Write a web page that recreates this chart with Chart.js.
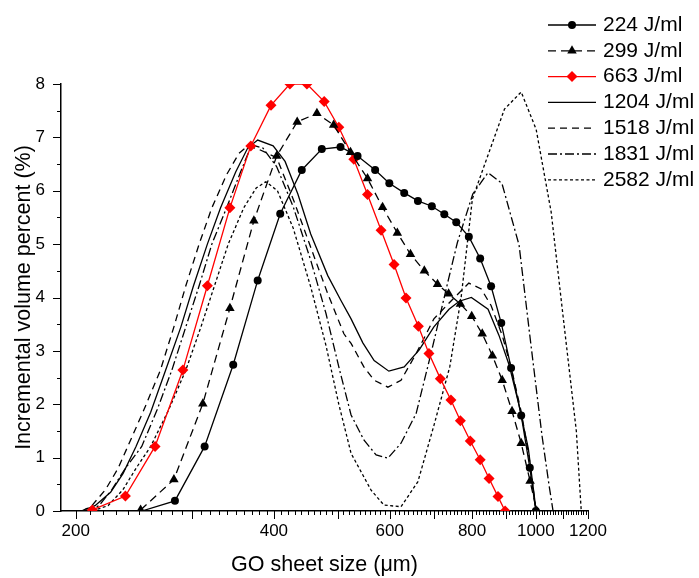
<!DOCTYPE html>
<html>
<head>
<meta charset="utf-8">
<title>GO sheet size distribution</title>
<script src="https://cdn.jsdelivr.net/npm/chart.js@4.4.1/dist/chart.umd.min.js"></script>
<style>
  html, body { margin: 0; padding: 0; background: #fff; }
</style>
</head>
<body>
<canvas id="sizeChart" width="699" height="578"></canvas>
<script>
// sheet size (um) / incremental volume (%) for each sonication energy
const size224 = [252, 283, 314, 347, 378, 409, 441, 473, 505, 536, 570, 599, 631, 662, 695, 726, 757, 791, 823, 855, 886, 917, 950, 979, 1000];
const vol224  = [0, 0.19, 1.21, 2.74, 4.32, 5.57, 6.39, 6.78, 6.82, 6.65, 6.39, 6.14, 5.96, 5.81, 5.71, 5.56, 5.41, 5.14, 4.73, 4.21, 3.52, 2.68, 1.79, 0.81, 0];

const size299 = [251, 282, 312, 343, 373, 404, 434, 465, 493, 523, 555, 585, 616, 645, 677, 709, 737, 768, 799, 829, 859, 889, 920, 950, 980, 1003];
const vol299  = [0.02, 0.59, 2.01, 3.80, 5.44, 6.65, 7.29, 7.45, 7.23, 6.72, 6.23, 5.69, 5.21, 4.81, 4.50, 4.25, 4.07, 3.88, 3.65, 3.32, 2.91, 2.45, 1.87, 1.27, 0.56, 0];

const size663 = [212, 238, 264, 291, 317, 343, 369, 396, 423, 449, 477, 502, 529, 555, 582, 609, 635, 663, 688, 716, 743, 768, 795, 823, 849, 876, 898];
const vol663  = [0.02, 0.28, 1.21, 2.64, 4.22, 5.68, 6.84, 7.60, 8.0, 8.0, 7.67, 7.19, 6.59, 5.93, 5.26, 4.62, 3.99, 3.46, 2.95, 2.48, 2.08, 1.69, 1.31, 0.96, 0.61, 0.27, 0];

const size1204 = [207, 214, 226, 236, 247, 260, 274, 289, 302, 317, 332, 350, 365, 378, 399, 416, 435, 455, 483, 506, 524, 546, 568, 598, 631, 665, 700, 738, 765, 798, 846, 879, 911, 943, 974, 1001];
const vol1204  = [0.03, 0.1, 0.35, 0.7, 1.21, 1.85, 2.64, 3.45, 4.22, 5.0, 5.68, 6.35, 6.8, 6.95, 6.84, 6.55, 5.94, 5.19, 4.41, 3.94, 3.6, 3.15, 2.82, 2.62, 2.70, 3.02, 3.45, 3.78, 3.93, 4.0, 3.78, 3.29, 2.73, 1.98, 1.17, 0];

const size1518 = [204, 211, 222, 232, 240, 254, 269, 282, 294, 308, 322, 339, 354, 365, 379, 404, 429, 455, 483, 511, 524, 548, 568, 596, 624, 658, 700, 744, 791, 826, 855, 889, 918, 950, 977, 1001];
const vol1518  = [0, 0.08, 0.4, 0.8, 1.21, 1.9, 2.64, 3.45, 4.22, 5.0, 5.68, 6.3, 6.7, 6.84, 6.78, 6.62, 5.81, 4.94, 4.07, 3.32, 3.14, 2.70, 2.45, 2.32, 2.45, 2.95, 3.6, 3.94, 4.27, 4.16, 3.85, 3.29, 2.67, 1.86, 0.99, 0];

const size1831 = [207, 217, 227, 238, 252, 266, 280, 294, 308, 322, 339, 356, 370, 385, 404, 428, 455, 480, 502, 524, 548, 572, 596, 624, 658, 693, 736, 760, 802, 846, 888, 943, 981, 1022, 1047, 1062];
const vol1831  = [0, 0.1, 0.4, 0.8, 1.21, 1.9, 2.64, 3.45, 4.22, 5.0, 5.68, 6.35, 6.86, 6.8, 6.45, 5.7, 4.7, 3.7, 2.7, 1.8, 1.33, 1.05, 0.99, 1.27, 1.83, 2.95, 4.32, 5.03, 5.94, 6.34, 6.14, 4.98, 3.2, 1.4, 0.49, 0];

const size2582 = [212, 224, 236, 247, 260, 277, 294, 310, 325, 341, 360, 376, 389, 405, 428, 455, 480, 502, 524, 562, 588, 624, 662, 700, 740, 770, 801, 896, 950, 1001, 1055, 1101, 1152, 1172];
const vol2582  = [0, 0.1, 0.4, 0.8, 1.21, 1.9, 2.64, 3.45, 4.22, 5.0, 5.68, 6.05, 6.17, 6.0, 5.3, 4.2, 3.1, 2.0, 1.08, 0.39, 0.11, 0.08, 0.55, 1.6, 2.7, 4.0, 5.85, 7.53, 7.85, 7.15, 5.6, 3.6, 1.5, 0];

const seriesLabels = ['224 J/ml', '299 J/ml', '663 J/ml', '1204 J/ml', '1518 J/ml', '1831 J/ml', '2582 J/ml'];
const xTickLabels = [200, 400, 600, 800, 1000, 1200];
const yTickLabels = [0, 1, 2, 3, 4, 5, 6, 7, 8];

const FONT = 'Arial, "Liberation Sans", Helvetica, sans-serif';

function toPoints(xs, ys) {
  return xs.map((v, i) => ({ x: v, y: ys[i] }));
}

function makeSet(label, xs, ys, color, dash, style, radius) {
  return {
    label: label,
    data: toPoints(xs, ys),
    borderColor: color,
    backgroundColor: color,
    borderWidth: 1.3,
    borderDash: dash,
    pointStyle: style || false,
    pointRadius: style ? radius : 0,
    pointBackgroundColor: color,
    pointBorderWidth: 0,
    tension: 0,
    clip: 0
  };
}

const datasets = [
  makeSet(seriesLabels[0], size224, vol224, '#000', [], 'circle', 4),
  makeSet(seriesLabels[1], size299, vol299, '#000', [8, 5], 'triangle', 5.5),
  makeSet(seriesLabels[2], size663, vol663, '#ff0000', [], 'rectRot', 5.5),
  makeSet(seriesLabels[3], size1204, vol1204, '#000', [], null),
  makeSet(seriesLabels[4], size1518, vol1518, '#000', [7, 5], null),
  makeSet(seriesLabels[5], size1831, vol1831, '#000', [9, 3, 2, 3], null),
  makeSet(seriesLabels[6], size2582, vol2582, '#000', [3, 2.5], null)
];
// first point of the 224 curve is only the foot of the line
datasets[0].pointRadius = size224.map((v, i) => (i === 0 ? 0 : 4));

// outward tick marks: long on 100 um / whole percent, short in between
const axisTicks = {
  id: 'axisTicks',
  afterDraw(chart) {
    const { ctx, scales: { x, y } } = chart;
    ctx.save();
    ctx.strokeStyle = '#000';
    ctx.lineWidth = 1;
    ctx.beginPath();
    for (let v = 200; v <= 1200; v += 10) {
      const px = Math.round(x.getPixelForValue(v)) + 0.5;
      const len = v % 100 === 0 ? 8 : 4;
      ctx.moveTo(px, x.top);
      ctx.lineTo(px, x.top + len);
    }
    for (let v = 0; v <= 8; v += 0.5) {
      const py = Math.round(y.getPixelForValue(v)) + 0.5;
      const len = v % 1 === 0 ? 8 : 4;
      ctx.moveTo(y.right, py);
      ctx.lineTo(y.right - len, py);
    }
    ctx.stroke();
    ctx.restore();
  }
};

// legend block in the top right corner
const sideLegend = {
  id: 'sideLegend',
  afterDraw(chart) {
    const ctx = chart.ctx;
    ctx.save();
    chart.data.datasets.forEach((ds, i) => {
      const yy = 25 + i * 25.8;
      ctx.strokeStyle = ds.borderColor;
      ctx.lineWidth = ds.borderWidth;
      ctx.setLineDash(ds.borderDash);
      ctx.beginPath();
      ctx.moveTo(548, yy);
      ctx.lineTo(596, yy);
      ctx.stroke();
      ctx.setLineDash([]);
      if (ds.pointStyle) {
        ctx.fillStyle = ds.borderColor;
        Chart.helpers.drawPoint(ctx, {
          pointStyle: ds.pointStyle,
          radius: ds.pointStyle === 'circle' ? 4 : 5.5,
          rotation: 0,
          borderWidth: 0
        }, 572, yy);
      }
      ctx.fillStyle = '#000';
      ctx.font = '21px ' + FONT;
      ctx.textBaseline = 'middle';
      ctx.textAlign = 'left';
      ctx.fillText(ds.label, 603, yy);
    });
    ctx.restore();
  }
};

Chart.defaults.font.family = FONT;
Chart.defaults.color = '#000';

new Chart(document.getElementById('sizeChart'), {
  type: 'line',
  data: { datasets: datasets },
  options: {
    responsive: false,
    animation: false,
    devicePixelRatio: 1,
    layout: { padding: { top: 84, right: 111, bottom: 0, left: 0 } },
    plugins: {
      legend: { display: false },
      tooltip: { enabled: false }
    },
    scales: {
      x: {
        type: 'logarithmic',
        position: 'bottom',
        min: 190,
        max: 1200,
        afterBuildTicks: (scale) => {
          scale.ticks = xTickLabels.map(v => ({ value: v }));
        },
        afterFit: (scale) => { scale.height = 67; },
        ticks: {
          autoSkip: false,
          maxRotation: 0,
          minRotation: 0,
          padding: 10,
          color: '#000',
          font: { size: 17 },
          callback: (v) => String(v)
        },
        grid: { display: false, drawTicks: false },
        border: { display: true, color: '#000', width: 1.5 },
        title: {
          display: true,
          text: 'GO sheet size (μm)',
          color: '#000',
          font: { size: 21.5 },
          padding: { top: 0, bottom: 0 }
        }
      },
      y: {
        type: 'linear',
        min: 0,
        max: 8,
        afterBuildTicks: (scale) => {
          scale.ticks = yTickLabels.map(v => ({ value: v }));
        },
        afterFit: (scale) => { scale.width = 61; },
        ticks: {
          padding: 16,
          color: '#000',
          font: { size: 17 }
        },
        grid: { display: false, drawTicks: false },
        border: { display: true, color: '#000', width: 1.5 },
        title: {
          display: true,
          text: 'Incremental volume percent (%)',
          color: '#000',
          font: { size: 21.5 },
          padding: { top: 11, bottom: 0 }
        }
      }
    }
  },
  plugins: [axisTicks, sideLegend]
});
</script>
</body>
</html>
